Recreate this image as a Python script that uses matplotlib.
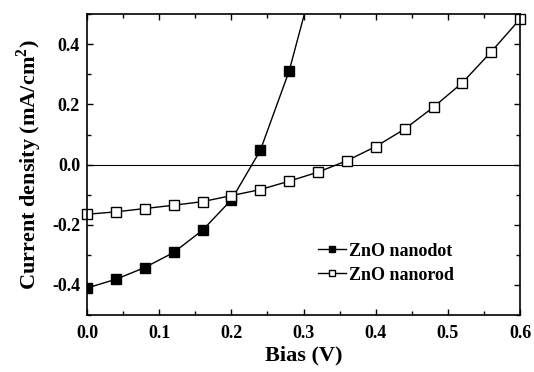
import matplotlib.pyplot as plt
from matplotlib.ticker import MultipleLocator

plt.rcParams['font.family'] = 'Liberation Serif'
plt.rcParams['font.weight'] = 'bold'
plt.rcParams['axes.unicode_minus'] = False
plt.rcParams['mathtext.fontset'] = 'custom'
plt.rcParams['mathtext.bf'] = 'Liberation Serif:bold'
plt.rcParams['mathtext.rm'] = 'Liberation Serif:bold'

# tension (V)
bias_dot = [0.0, 0.04, 0.08, 0.12, 0.16, 0.20, 0.24, 0.28, 0.32]
j_dot = [-0.41, -0.381, -0.342, -0.292, -0.218, -0.117, 0.047, 0.311, 0.67]

bias_rod = [0.0, 0.04, 0.08, 0.12, 0.16, 0.20, 0.24, 0.28, 0.32, 0.36,
            0.40, 0.44, 0.48, 0.52, 0.56, 0.60]
j_rod = [-0.165, -0.157, -0.146, -0.135, -0.123, -0.103, -0.083, -0.055,
         -0.025, 0.013, 0.06, 0.118, 0.191, 0.272, 0.375, 0.484]

fig = plt.figure(figsize=(5.34, 3.72), dpi=100)
ax = fig.add_axes([0.163, 0.153, 0.811, 0.809])

ax.axhline(0, color='black', lw=0.8)
ax.plot(bias_dot, j_dot, '-s', color='black', lw=1, ms=6.5,
        mfc='black', mec='black', label='ZnO nanodot', clip_on=True)
ax.plot(bias_rod, j_rod, '-s', color='black', lw=1, ms=6.5,
        mfc='white', mec='black', label='ZnO nanorod', clip_on=False)

ax.set_xlim(0, 0.6)
ax.set_ylim(-0.5, 0.5)
ax.xaxis.set_major_locator(MultipleLocator(0.1))
ax.xaxis.set_minor_locator(MultipleLocator(0.05))
ax.yaxis.set_major_locator(MultipleLocator(0.2))
ax.yaxis.set_minor_locator(MultipleLocator(0.1))
ax.tick_params(which='both', direction='in', top=True, right=True,
               labelsize=13, width=1)
ax.tick_params(axis='x', pad=7)
ax.tick_params(axis='y', pad=5)
ax.tick_params(which='major', length=4)
ax.tick_params(which='minor', length=3)
for s in ax.spines.values():
    s.set_linewidth(1.2)

ax.set_xlabel('Bias (V)', fontsize=16, fontweight='bold', labelpad=3)
ax.set_ylabel('Current density (mA/cm$^\\mathrm{2}$)', fontsize=16,
              fontweight='bold', labelpad=6)

ax.legend(loc='lower right', bbox_to_anchor=(0.885, 0.05), frameon=False,
          fontsize=13, handlelength=1.6, handletextpad=0.15, labelspacing=0.4,
          markerscale=0.6)

plt.savefig('out.png', dpi=100)
